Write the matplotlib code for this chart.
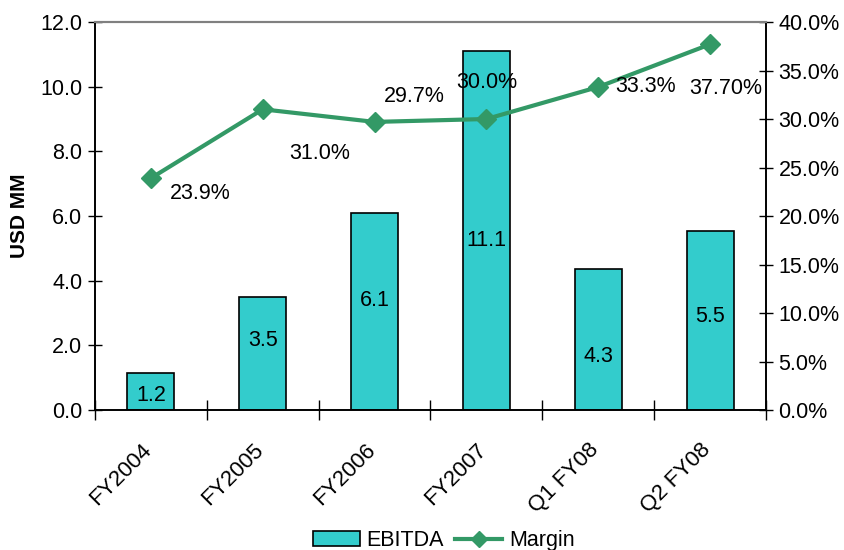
import matplotlib
matplotlib.use("Agg")
import matplotlib.pyplot as plt
from matplotlib.ticker import FuncFormatter, MultipleLocator
from matplotlib.patches import Patch
from matplotlib.lines import Line2D
import matplotlib.transforms as mtransforms
import numpy as np

plt.rcParams['font.family'] = ['Liberation Sans', 'DejaVu Sans']

categories = ["FY2004", "FY2005", "FY2006", "FY2007", "Q1 FY08", "Q2 FY08"]
ebitda = [1.15, 3.5, 6.1, 11.1, 4.35, 5.55]
ebitda_labels = ["1.2", "3.5", "6.1", "11.1", "4.3", "5.5"]
margin = [23.9, 31.0, 29.7, 30.0, 33.3, 37.7]
margin_labels = ["23.9%", "31.0%", "29.7%", "30.0%", "33.3%", "37.70%"]

# layout-only offsets (points)
bar_label_dy = [-3, 9, 8, -7, -12, 3]
margin_offsets = [(14, -11), (19, -32), (7, 18), (0, 26), (12, 0), (11, -32)]
margin_ha = ["left", "left", "left", "center", "left", "center"]

bar_color = "#33CCCC"
line_color = "#339966"
fs = 15.5

fig = plt.figure(figsize=(8.45, 5.5), dpi=100)
ax = fig.add_axes([0.1124, 0.2545, 0.7941, 0.7055])
x = np.arange(len(categories))

ax.bar(x, ebitda, width=0.42, color=bar_color, edgecolor="black", linewidth=1.2, zorder=2)
for xi, v, lab, dy in zip(x, ebitda, ebitda_labels, bar_label_dy):
    ax.annotate(lab, (xi, v / 2), xytext=(0, dy), textcoords="offset points",
                ha="center", va="center", fontsize=fs)

ax.set_xlim(-0.5, len(categories) - 0.5)
ax.set_ylim(0, 12)
ax.yaxis.set_major_locator(MultipleLocator(2))
ax.yaxis.set_major_formatter(FuncFormatter(lambda v, p: f"{v:.1f}"))
ax.set_xticks(x)
ax.set_xticklabels(categories, rotation=45, ha="right", rotation_mode="anchor", fontsize=16)
ax.tick_params(axis="x", length=0, pad=21)
shift = mtransforms.ScaledTranslation(-10 / 100, 0, fig.dpi_scale_trans)
for lbl in ax.get_xticklabels():
    lbl.set_transform(lbl.get_transform() + shift)
ax.set_xticks(np.arange(len(categories) + 1) - 0.5, minor=True)
ax.tick_params(axis="x", which="minor", length=14, direction="inout", width=1)
ax.tick_params(axis="y", length=10, direction="inout", width=1, labelsize=fs, pad=4)
ax.set_ylabel("USD MM", fontsize=15, fontweight="bold", labelpad=8)

ax2 = ax.twinx()
ax2.plot(x, margin, color=line_color, linewidth=3, marker="D", markersize=10, zorder=3)
ax2.set_ylim(0, 40)
ax2.yaxis.set_major_locator(MultipleLocator(5))
ax2.yaxis.set_major_formatter(FuncFormatter(lambda v, p: f"{v:.1f}%"))
ax2.tick_params(axis="y", length=10, direction="inout", width=1, labelsize=fs, pad=4)
for xi, v, lab, off, ha in zip(x, margin, margin_labels, margin_offsets, margin_ha):
    ax2.annotate(lab, (xi, v), xytext=off, textcoords="offset points", ha=ha, va="center", fontsize=fs)

for a in (ax, ax2):
    a.spines["top"].set_color("#808080")
    a.spines["top"].set_linewidth(1.5)
    a.spines["left"].set_linewidth(1.2)
    a.spines["right"].set_linewidth(1.2)
    a.spines["bottom"].set_linewidth(1.2)

handles = [Patch(facecolor=bar_color, edgecolor="black", linewidth=1.2),
           Line2D([0], [0], color=line_color, linewidth=3, marker="D", markersize=8)]
fig.legend(handles, ["EBITDA", "Margin"], loc="center", bbox_to_anchor=(0.525, 0.017), ncol=2,
           frameon=False, fontsize=fs, handlelength=2.2, handletextpad=0.3, columnspacing=0.5)

fig.savefig("out.png", dpi=100)
